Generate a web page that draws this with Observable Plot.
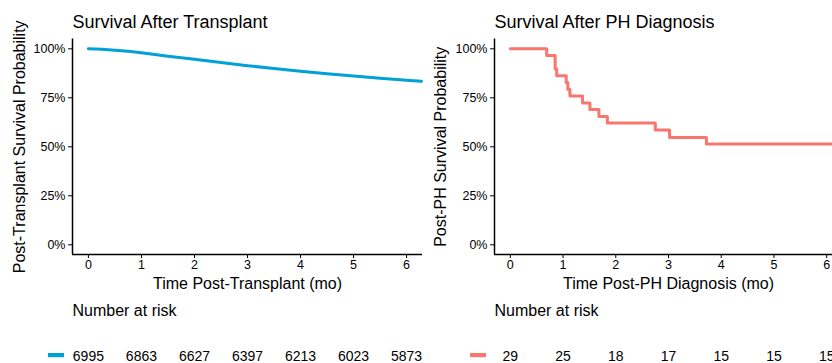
<!DOCTYPE html>
<html><head><meta charset="utf-8">
<script src="https://cdn.jsdelivr.net/npm/d3@7"></script>
<script src="https://cdn.jsdelivr.net/npm/@observablehq/plot@0.6"></script>
<style>
html,body{margin:0;padding:0;background:#fff;width:832px;height:363px;overflow:hidden}
#wrap{position:relative;width:832px;height:363px;overflow:hidden}
.panel{position:absolute;top:0;width:422px;height:363px}
.panel svg{max-width:none !important}
</style></head><body><div id="wrap"></div>
<script>
// Survival After Transplant (KM estimate, months)
const txTime = [0, 0.25, 0.5, 0.75, 1, 1.5, 2, 2.5, 3, 3.5, 4, 4.5, 5, 5.5, 6, 6.28];
const txSurv = [1, 0.998, 0.993, 0.987, 0.980, 0.962, 0.947, 0.930, 0.914, 0.899, 0.886, 0.873, 0.861, 0.850, 0.840, 0.834];
// Survival After PH Diagnosis (KM step function, months)
const phTime = [0, 0.69, 0.85, 0.88, 1.06, 1.09, 1.13, 1.37, 1.51, 1.68, 1.84, 2.75, 3.02, 3.72, 6.3];
const phSurv = [1, 0.966, 0.897, 0.862, 0.828, 0.793, 0.759, 0.724, 0.690, 0.655, 0.621, 0.586, 0.548, 0.514, 0.514];
// Number at risk table
const riskTimes = [0, 1, 2, 3, 4, 5, 6];
const txRisk = [6995, 6863, 6627, 6397, 6213, 6023, 5873];
const phRisk = [29, 25, 18, 17, 15, 15, 15];
const yTicks = [0, 0.25, 0.5, 0.75, 1];

const font = "'Liberation Sans', Arial, sans-serif";

function panel({title, ylabel, xlabel, time, surv, risk, color, curve, marginLeft, left, yDx}) {
  const data = time.map((t, i) => ({t, s: surv[i]}));
  const riskData = riskTimes.map((t, i) => ({t, n: risk[i]}));
  const chart = Plot.plot({
    width: 422, height: 363,
    marginLeft, marginRight: 0, marginTop: 38.5, marginBottom: 108.9,
    style: {fontFamily: font, fontSize: "12.5px", background: "transparent", overflow: "visible", color: "#000", maxWidth: "none"},
    x: {domain: [-0.3, 6.3]},
    y: {domain: [-0.05, 1.05]},
    marks: [
      Plot.axisY({ticks: yTicks, tickFormat: d3.format(".0%"), tickSize: 4, tickPadding: 3, fontSize: 12.5, label: null, stroke: "#000"}),
      Plot.axisX({ticks: riskTimes, tickFormat: d3.format("d"), tickSize: 4, tickPadding: 2, fontSize: 12.5, label: null, stroke: "#000"}),
      Plot.ruleX([-0.3], {stroke: "#000", strokeWidth: 1.5}),
      Plot.ruleY([-0.05], {stroke: "#000", strokeWidth: 1.5}),
      Plot.line(data, {x: "t", y: "s", stroke: color, strokeWidth: 3, curve}),
      Plot.text([title], {frameAnchor: "top-left", textAnchor: "start", lineAnchor: "middle", dy: -16.5, fontSize: 18}),
      Plot.text([xlabel], {frameAnchor: "bottom", lineAnchor: "middle", dy: 29, fontSize: 16}),
      Plot.text([ylabel], {frameAnchor: "left", textAnchor: "middle", lineAnchor: "middle", rotate: -90, dx: yDx, fontSize: 16}),
      Plot.text(["Number at risk"], {frameAnchor: "bottom-left", textAnchor: "start", lineAnchor: "middle", dy: 56.6, fontSize: 16}),
      Plot.text(riskData, {x: "t", text: d => String(d.n), frameAnchor: "bottom", lineAnchor: "middle", dy: 101.6, fontSize: 14})
    ]
  });
  d3.select(chart).append("rect")
    .attr("x", marginLeft - 24).attr("y", 353).attr("width", 16).attr("height", 4.2)
    .attr("fill", color);
  const div = document.createElement("div");
  div.className = "panel";
  div.style.left = left + "px";
  div.appendChild(chart);
  document.getElementById("wrap").appendChild(div);
}

panel({title: "Survival After Transplant", ylabel: "Post-Transplant Survival Probability",
  xlabel: "Time Post-Transplant (mo)", time: txTime, surv: txSurv, risk: txRisk,
  color: "#00A1D5", curve: "linear", marginLeft: 72, left: 0, yDx: -52.5});
panel({title: "Survival After PH Diagnosis", ylabel: "Post-PH Survival Probability",
  xlabel: "Time Post-PH Diagnosis (mo)", time: phTime, surv: phSurv, risk: phRisk,
  color: "#F8766D", curve: "step-after", marginLeft: 74, left: 420, yDx: -54});
</script></body></html>
